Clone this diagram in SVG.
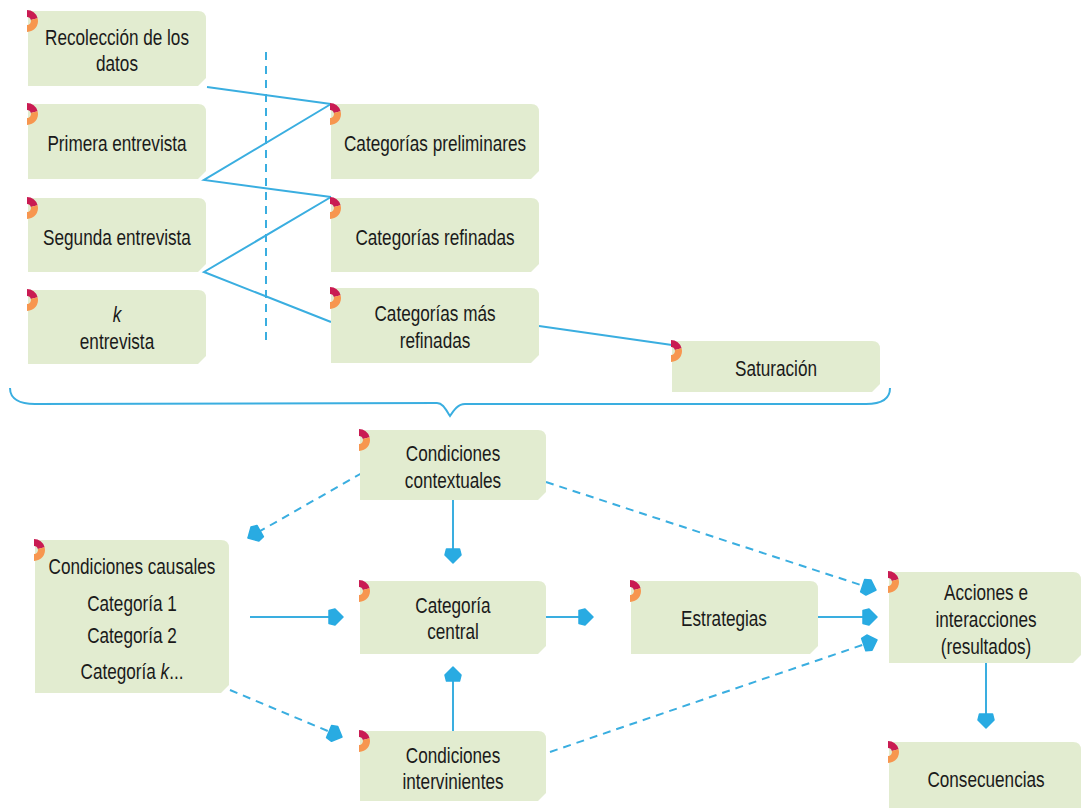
<svg xmlns="http://www.w3.org/2000/svg" width="1081" height="808" viewBox="0 0 1081 808">
<style>
.box{fill:#e2ecd0}
.t{font-family:"Liberation Sans",Arial,sans-serif;font-size:22px;fill:#1a1a1a;text-anchor:middle;transform-box:fill-box;transform-origin:center;transform:scaleX(0.78)}
.ln{stroke:#3aaee0;stroke-width:2;fill:none}
.ar{stroke:#3aaee0;stroke-width:2;fill:none;marker-end:url(#ah)}
.da{stroke-dasharray:8 6}
</style>
<defs>
<symbol id="dec" overflow="visible">
<path d="M0,-11 A11,11 0 0 1 10.62,-2.85 L3.86,-1.04 A4,4 0 0 0 0,-4 Z" fill="#c91b52"/>
<path d="M10.62,-2.85 A11,11 0 0 1 0,11 L0,4 A4,4 0 0 0 3.86,-1.04 Z" fill="#f7964f"/>
</symbol>
<marker id="ah" markerUnits="userSpaceOnUse" viewBox="-16 -10 17 20" refX="0" refY="0" markerWidth="17" markerHeight="20" orient="auto">
<path d="M0,0 L-8,-8 L-14,-6.5 L-14,6.5 L-8,8 Z" fill="#29abe2" stroke="#29abe2" stroke-width="1.5" stroke-linejoin="round"/>
</marker>
</defs>

<g id="connectors">
<line class="ln da" x1="266" y1="52" x2="266" y2="340"/>
<polyline class="ln" points="207,87 331,104"/>
<polyline class="ln" points="331,104 204,180 331,197"/>
<polyline class="ln" points="331,197 204,272 331,322"/>
<polyline class="ln" points="539,326 672,345"/>
<path class="ln" d="M10,388 C10,399 20,404 35,404 L437,403 C443,403 446,410 450,416 C454,410 458,404 465,404 L866,404 C882,404 890,399 890,388"/>
<line class="ar da" x1="362" y1="473" x2="248" y2="538"/>
<line class="ar" x1="453" y1="500" x2="453" y2="563"/>
<line class="ar da" x1="546" y1="482" x2="876" y2="590"/>
<line class="ar" x1="250" y1="617" x2="343" y2="617"/>
<line class="ar" x1="546" y1="617" x2="593" y2="617"/>
<line class="ar" x1="818" y1="617" x2="877" y2="617"/>
<line class="ar da" x1="550" y1="752" x2="877" y2="640"/>
<line class="ar" x1="453" y1="731" x2="453" y2="667"/>
<line class="ar da" x1="230" y1="690" x2="342" y2="737"/>
<line class="ar" x1="986" y1="663" x2="986" y2="728"/>
</g>

<g id="n1"><path class="box" d="M28,11 H198 Q206,11 206,19 V78 L198,86 H28 Z"/><use href="#dec" x="27" y="21"/>
<text class="t" x="117" y="45">Recolección de los</text><text class="t" x="117" y="71">datos</text></g>
<g id="n2"><path class="box" d="M28,104 H198 Q206,104 206,112 V171 L198,179 H28 Z"/><use href="#dec" x="27" y="114"/>
<text class="t" x="117" y="151">Primera entrevista</text></g>
<g id="n3"><path class="box" d="M28,198 H198 Q206,198 206,206 V264 L198,272 H28 Z"/><use href="#dec" x="27" y="208"/>
<text class="t" x="117" y="245">Segunda entrevista</text></g>
<g id="n4"><path class="box" d="M28,290 H198 Q206,290 206,298 V356 L198,364 H28 Z"/><use href="#dec" x="27" y="300"/>
<text class="t" x="117" y="322" font-style="italic">k</text><text class="t" x="117" y="349">entrevista</text></g>
<g id="n5"><path class="box" d="M331,104 H531 Q539,104 539,112 V171 L531,179 H331 Z"/><use href="#dec" x="330" y="114"/>
<text class="t" x="435" y="151">Categorías preliminares</text></g>
<g id="n6"><path class="box" d="M331,198 H531 Q539,198 539,206 V264 L531,272 H331 Z"/><use href="#dec" x="330" y="208"/>
<text class="t" x="435" y="245">Categorías refinadas</text></g>
<g id="n7"><path class="box" d="M331,288 H531 Q539,288 539,296 V355 L531,363 H331 Z"/><use href="#dec" x="330" y="298"/>
<text class="t" x="435" y="321">Categorías más</text><text class="t" x="435" y="348">refinadas</text></g>
<g id="n8"><path class="box" d="M672,341 H872 Q880,341 880,349 V384 L872,392 H672 Z"/><use href="#dec" x="671" y="351"/>
<text class="t" x="776" y="376">Saturación</text></g>

<g id="n9"><path class="box" d="M360,430 H538 Q546,430 546,438 V492 L538,500 H360 Z"/><use href="#dec" x="359" y="440"/>
<text class="t" x="453" y="461">Condiciones</text><text class="t" x="453" y="488">contextuales</text></g>
<g id="n10"><path class="box" d="M35,540 H221 Q229,540 229,548 V685 L221,693 H35 Z"/><use href="#dec" x="34" y="550"/>
<text class="t" x="132" y="574">Condiciones causales</text><text class="t" x="132" y="611">Categoría 1</text><text class="t" x="132" y="643">Categoría 2</text><text class="t" x="132" y="679">Categoría <tspan font-style="italic">k</tspan>...</text></g>
<g id="n11"><path class="box" d="M360,581 H538 Q546,581 546,589 V646 L538,654 H360 Z"/><use href="#dec" x="359" y="591"/>
<text class="t" x="453" y="613">Categoría</text><text class="t" x="453" y="639">central</text></g>
<g id="n12"><path class="box" d="M631,581 H810 Q818,581 818,589 V646 L810,654 H631 Z"/><use href="#dec" x="630" y="591"/>
<text class="t" x="724" y="626">Estrategias</text></g>
<g id="n13"><path class="box" d="M889,572 H1073 Q1081,572 1081,580 V655 L1073,663 H889 Z"/><use href="#dec" x="888" y="582"/>
<text class="t" x="986" y="600">Acciones e</text><text class="t" x="986" y="627">interacciones</text><text class="t" x="986" y="654">(resultados)</text></g>
<g id="n14"><path class="box" d="M889,742 H1073 Q1081,742 1081,750 V808 H889 Z"/><use href="#dec" x="888" y="752"/>
<text class="t" x="986" y="787">Consecuencias</text></g>
<g id="n15"><path class="box" d="M360,731 H538 Q546,731 546,739 V793 L538,801 H360 Z"/><use href="#dec" x="359" y="741"/>
<text class="t" x="453" y="763">Condiciones</text><text class="t" x="453" y="789">intervinientes</text></g>
</svg>
